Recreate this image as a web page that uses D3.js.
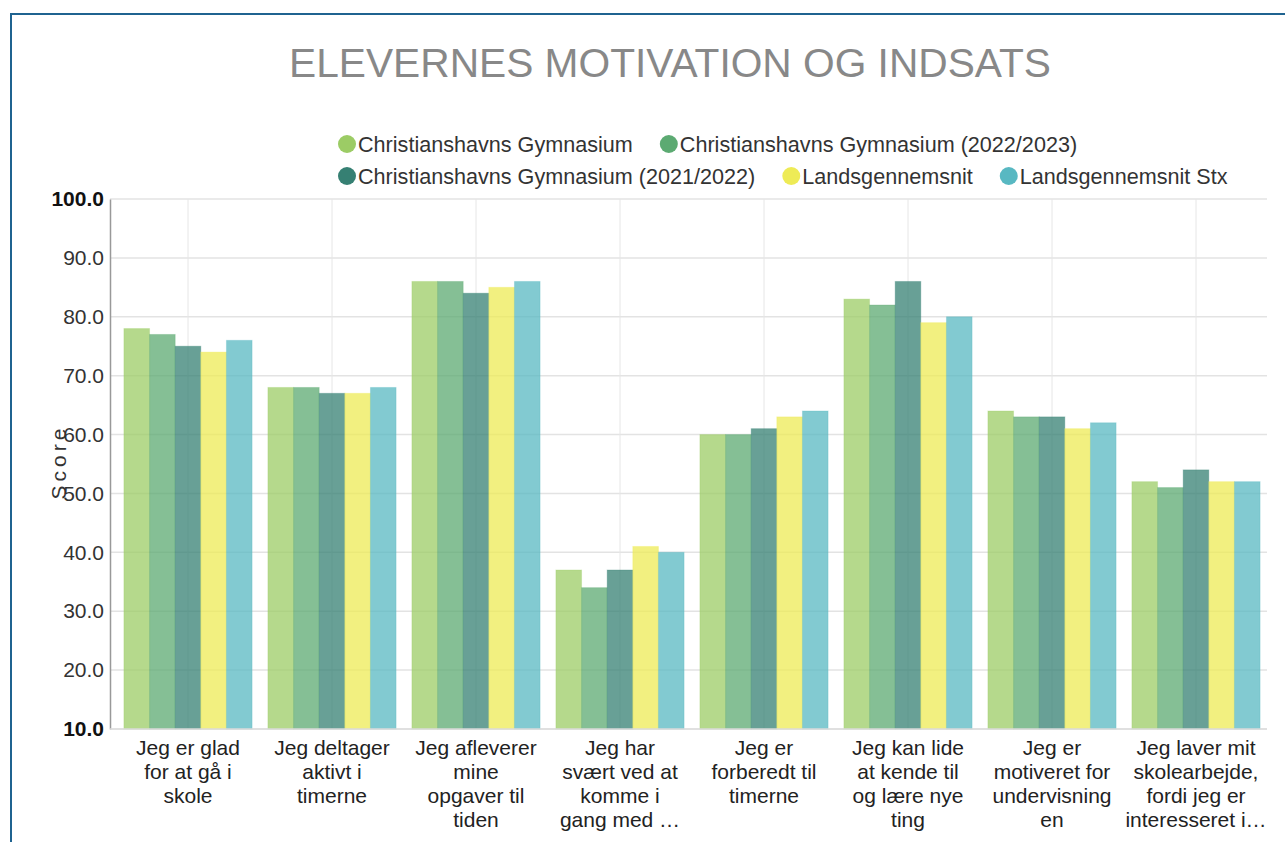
<!DOCTYPE html>
<html>
<head>
<meta charset="utf-8">
<script src="https://cdn.jsdelivr.net/npm/d3@7"></script>
<style>
  body { margin: 0; background: #fff; font-family: "Liberation Sans", Arial, sans-serif; }
  svg { display: block; }
</style>
</head>
<body>
<svg id="chart" width="1285" height="842"></svg>
<script>
// chart data
const categories = ["c1", "c2", "c3", "c4", "c5", "c6", "c7", "c8"];
const categoryLabels = [
  ["Jeg er glad", "for at gå i", "skole"],
  ["Jeg deltager", "aktivt i", "timerne"],
  ["Jeg afleverer", "mine", "opgaver til", "tiden"],
  ["Jeg har", "svært ved at", "komme i", "gang med …"],
  ["Jeg er", "forberedt til", "timerne"],
  ["Jeg kan lide", "at kende til", "og lære nye", "ting"],
  ["Jeg er", "motiveret for", "undervisning", "en"],
  ["Jeg laver mit", "skolearbejde,", "fordi jeg er", "interesseret i…"]
];
const seriesNames = [
  "Christianshavns Gymnasium",
  "Christianshavns Gymnasium (2022/2023)",
  "Christianshavns Gymnasium (2021/2022)",
  "Landsgennemsnit",
  "Landsgennemsnit Stx"
];
const seriesColors = ["#9ccc65", "#5caa72", "#368073", "#eeeb56", "#58b8c2"];
const cgAll   = [78, 68, 86, 37, 60, 83, 64, 52];
const cg2223  = [77, 68, 86, 34, 60, 82, 63, 51];
const cg2122  = [75, 67, 84, 37, 61, 86, 63, 54];
const lands   = [74, 67, 85, 41, 63, 79, 61, 52];
const landsStx = [76, 68, 86, 40, 64, 80, 62, 52];
const seriesValues = [cgAll, cg2223, cg2122, lands, landsStx];
const yTicks = [10, 20, 30, 40, 50, 60, 70, 80, 90, 100];

const svg = d3.select("#chart");

// frame
svg.append("path")
  .attr("d", "M11,842 V14 H1285")
  .attr("fill", "none")
  .attr("stroke", "#1f6390")
  .attr("stroke-width", 2);

// title
svg.append("text")
  .attr("x", 670).attr("y", 77)
  .attr("text-anchor", "middle")
  .attr("font-size", 40.7)
  .attr("fill", "#888")
  .text("ELEVERNES MOTIVATION OG INDSATS");

// scales
const x0 = d3.scaleBand().domain(categories).range([116, 1268]).paddingInner(0.11).paddingOuter(0.055);
const x1 = d3.scaleBand().domain(d3.range(seriesNames.length)).range([0, x0.bandwidth()]);
const y = d3.scaleLinear().domain([10, 100]).range([729, 199]);

// grid
const grid = svg.append("g");
grid.selectAll(".hg").data(yTicks).enter().append("line")
  .attr("x1", 110).attr("x2", 1267)
  .attr("y1", d => y(d)).attr("y2", d => y(d))
  .attr("stroke", "#e3e3e3").attr("stroke-width", 1.5);
grid.selectAll(".vg").data(categories).enter().append("line")
  .attr("x1", d => x0(d) + x0.bandwidth() / 2).attr("x2", d => x0(d) + x0.bandwidth() / 2)
  .attr("y1", y(100)).attr("y2", y(10))
  .attr("stroke", "#e6e6e6").attr("stroke-width", 1);

// bars
const groups = svg.append("g").selectAll("g").data(categories).enter().append("g")
  .attr("transform", d => `translate(${x0(d)},0)`);
groups.selectAll("rect")
  .data((d, i) => seriesValues.map((s, k) => ({ k: k, v: s[i] })))
  .enter().append("rect")
    .attr("x", d => x1(d.k))
    .attr("y", d => y(d.v))
    .attr("width", x1.bandwidth())
    .attr("height", d => y(10) - y(d.v))
    .attr("fill", d => seriesColors[d.k])
    .attr("fill-opacity", 0.75)
    .attr("stroke", d => seriesColors[d.k])
    .attr("stroke-opacity", 0.3)
    .attr("stroke-width", 1);

// y axis
const yAxis = d3.axisLeft(y).tickValues(yTicks).tickFormat(d3.format(".1f")).tickSize(0).tickPadding(6);
const ya = svg.append("g").attr("transform", "translate(110,0)").call(yAxis);
ya.select(".domain").attr("stroke", "#999").attr("stroke-width", 1.5);
ya.selectAll("text")
  .attr("font-size", 21)
  .attr("font-family", "Liberation Sans, Arial, sans-serif")
  .attr("font-weight", d => (d === 10 || d === 100) ? "bold" : "normal")
  .attr("fill", d => (d === 10 || d === 100) ? "#111" : "#333");

// bottom line
svg.append("line")
  .attr("x1", 110).attr("x2", 1267).attr("y1", y(10)).attr("y2", y(10))
  .attr("stroke", "#ddd").attr("stroke-width", 1.5);

// y label
svg.append("text")
  .attr("transform", "translate(66,462) rotate(-90)")
  .attr("text-anchor", "middle")
  .attr("font-size", 21)
  .attr("letter-spacing", 4)
  .attr("fill", "#333")
  .text("Score");

// x labels
const xl = svg.append("g").selectAll("text").data(categories).enter().append("text")
  .attr("text-anchor", "middle")
  .attr("font-size", 21)
  .attr("fill", "#222");
xl.each(function(d, i) {
  const cx = x0(d) + x0.bandwidth() / 2;
  d3.select(this).selectAll("tspan").data(categoryLabels[i]).enter().append("tspan")
    .attr("x", cx)
    .attr("y", (t, j) => 755 + j * 24)
    .text(t => t);
});

// legend
const legend = svg.append("g");
let lx = 338, ly = 144;
seriesNames.forEach((name, k) => {
  const item = legend.append("g");
  item.append("circle").attr("r", 9).attr("cx", 9).attr("fill", seriesColors[k]);
  const t = item.append("text").attr("x", 20).attr("dy", "0.35em")
    .attr("font-size", 21.6).attr("fill", "#333").text(name);
  const w = 20 + t.node().getComputedTextLength();
  if (lx + w > 1262) { lx = 338; ly += 32; }
  item.attr("transform", `translate(${lx},${ly})`);
  lx += w + 27;
});
</script>
</body>
</html>
